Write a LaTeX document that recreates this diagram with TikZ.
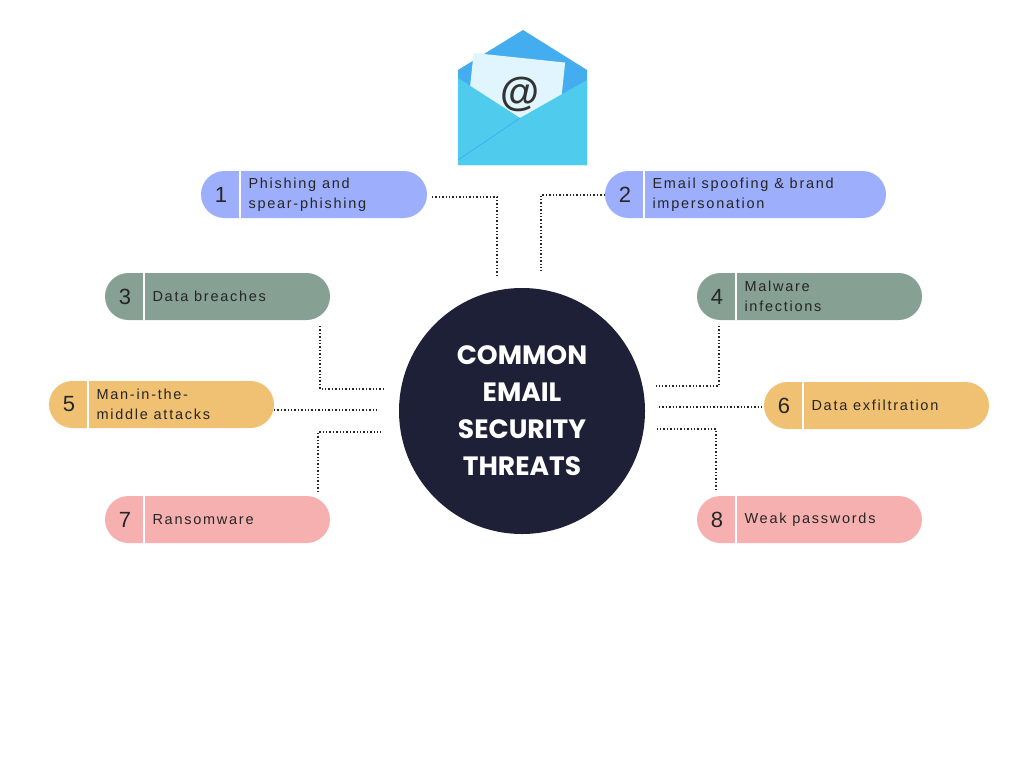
\documentclass[tikz,border=0pt]{standalone}
\usepackage{fontspec}
\setmainfont{Liberation Sans}[LetterSpace=12]
\newfontfamily\titlefont{Poppins}
\begin{document}
\begin{tikzpicture}[x=1pt,y=-1pt,
  pill/.style={draw=none,rounded corners=23.5pt},
  dv/.style={white,line width=1.5pt},
  num/.style={font=\fontsize{22}{22}\selectfont,text=black!85},
  lab/.style={anchor=west,font=\fontsize{14.5}{20.5}\selectfont,align=left,text=black!85},
  con/.style={dotted,line width=1.4pt,black!85}]
\definecolor{cb}{HTML}{9DAEFD}
\definecolor{cg}{HTML}{86A193}
\definecolor{cy}{HTML}{F0C173}
\definecolor{cp}{HTML}{F7B0B0}
\definecolor{nv}{HTML}{1E2038}
\definecolor{env}{HTML}{4FCBEE}
\useasboundingbox (0,0) rectangle (1024,768);
\fill[white] (0,0) rectangle (1024,768);
% envelope
\fill[env!85!blue] (458,70) -- (523,30) -- (587,70) -- (587,165) -- (458,165) -- cycle;
\fill[white!88!cyan,rotate around={-6:(520,90)}] (470,58) rectangle (562,135);
\node[font=\fontsize{40}{40}\selectfont\bfseries,text=black!80] (at) at (520,94) {@};
\fill[env] (458,78) -- (520,118) -- (587,80) -- (587,165) -- (458,165) -- cycle;
\draw[env!80!blue,line width=0.5pt] (458,160) -- (520,118);
% circle
\node[circle,fill=nv,minimum size=246pt,inner sep=0,align=center,text=white,
  font=\titlefont\fontsize{26.5}{37}\selectfont\bfseries] (c) at (522,411) {COMMON\\EMAIL\\SECURITY\\THREATS};
% pills
\newcommand\pill[8]{% name, color, x1, x2, y1, y2, num, label
  \fill[pill,#2] (#3,#5) rectangle (#4,#6);
  \coordinate (#1) at (#3,#5);
  \draw[dv] (#3+39,#5) -- (#3+39,#6);
  \node[num] (#1n) at (#3+20,{(#5+#6)/2}) {#7};
  \node[lab] (#1l) at (#3+44,{(#5+#6)/2}) {#8};}
\pill{p1}{cb}{201}{427}{171}{218}{1}{Phishing and\\spear-phishing}
\pill{p2}{cb}{605}{886}{171}{218}{2}{Email spoofing \& brand\\impersonation}
\pill{p3}{cg}{105}{330}{273}{320}{3}{Data breaches}
\pill{p4}{cg}{697}{922}{273}{320}{4}{Malware\\infections}
\pill{p5}{cy}{49}{274}{381}{428}{5}{Man-in-the-\\middle attacks}
\pill{p6}{cy}{764}{989}{382}{429}{6}{Data exfiltration}
\pill{p7}{cp}{105}{330}{496}{543}{7}{Ransomware}
\pill{p8}{cp}{697}{922}{496}{543}{8}{Weak passwords}
% connectors
\coordinate (a1) at (432,197); \coordinate (b1) at (497,275);
\coordinate (a2) at (605,195); \coordinate (b2) at (541,271);
\coordinate (a3) at (320,326); \coordinate (b3) at (383,389);
\coordinate (a4) at (719,326); \coordinate (b4) at (656,386);
\coordinate (a5) at (274,410); \coordinate (b5) at (378,410);
\coordinate (a6) at (659,407); \coordinate (b6) at (764,407);
\coordinate (a7) at (318,492); \coordinate (b7) at (381,432);
\coordinate (a8) at (716,490); \coordinate (b8) at (655,429);
\draw[con] (a1) -| (b1);
\draw[con] (a2) -| (b2);
\draw[con] (a3) |- (b3);
\draw[con] (a4) |- (b4);
\draw[con] (a5) -- (b5);
\draw[con] (a6) -- (b6);
\draw[con] (a7) |- (b7);
\draw[con] (a8) |- (b8);
\end{tikzpicture}
\end{document}
